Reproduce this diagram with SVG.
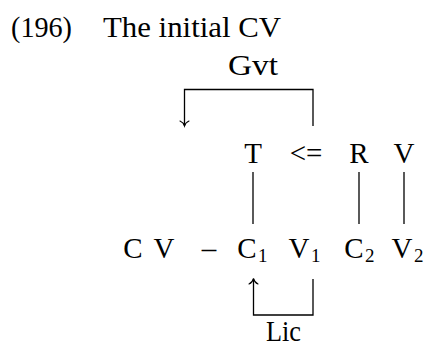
<svg xmlns="http://www.w3.org/2000/svg" width="429" height="349" viewBox="0 0 429 349">
<style>
text{font-family:"Liberation Serif","Times New Roman",serif;font-size:29px;fill:#000}
.m{text-anchor:middle}
.s{font-size:19px}
.ln{stroke:#000;stroke-width:1.3;fill:none}
.ah{stroke:#000;stroke-width:1.1;fill:none;stroke-linecap:round}
</style>
<rect width="429" height="349" fill="#fff"/>
<g id="title">
<text x="11" y="37" textLength="61" lengthAdjust="spacingAndGlyphs">(196)</text>
<text x="103" y="37" textLength="178" lengthAdjust="spacingAndGlyphs">The initial CV</text>
</g>
<g id="gvt-label"><text x="228" y="75" textLength="50" lengthAdjust="spacingAndGlyphs">Gvt</text></g>
<g id="lic-label"><text x="266" y="341" textLength="35" lengthAdjust="spacingAndGlyphs">Lic</text></g>
<g id="n-T"><text class="m" x="253" y="163">T</text></g>
<g id="n-le"><text class="m" x="306" y="163">&lt;=</text></g>
<g id="n-R"><text class="m" x="359" y="163">R</text></g>
<g id="n-V"><text class="m" x="404" y="163">V</text></g>
<g id="n-C0"><text class="m" x="133" y="258">C</text></g>
<g id="n-V0"><text class="m" x="164" y="258">V</text></g>
<g id="n-dash"><text class="m" x="209" y="258">–</text></g>
<g id="n-C1"><text class="m" x="247" y="258">C</text><text class="s" x="258" y="262">1</text></g>
<g id="n-V1"><text class="m" x="299" y="258">V</text><text class="s" x="311" y="262">1</text></g>
<g id="n-C2"><text class="m" x="354" y="258">C</text><text class="s" x="365" y="262">2</text></g>
<g id="n-V2"><text class="m" x="402" y="258">V</text><text class="s" x="414" y="262">2</text></g>
<g id="connectors">
<line class="ln" x1="253" y1="172" x2="253" y2="224"/>
<line class="ln" x1="359" y1="172" x2="359" y2="224"/>
<line class="ln" x1="404" y1="172" x2="404" y2="224"/>
<path class="ln" d="M184.5,125.5 V89.5 H313 V126"/>
<path class="ah" d="M180,121 Q183.5,122.5 184.5,126 Q185.5,122.5 189,121"/>
<path class="ln" d="M253.5,279 V315 H313 V279"/>
<path class="ah" d="M249,284 Q252.5,282.5 253.5,278.5 Q254.5,282.5 258,284"/>
</g>
</svg>
